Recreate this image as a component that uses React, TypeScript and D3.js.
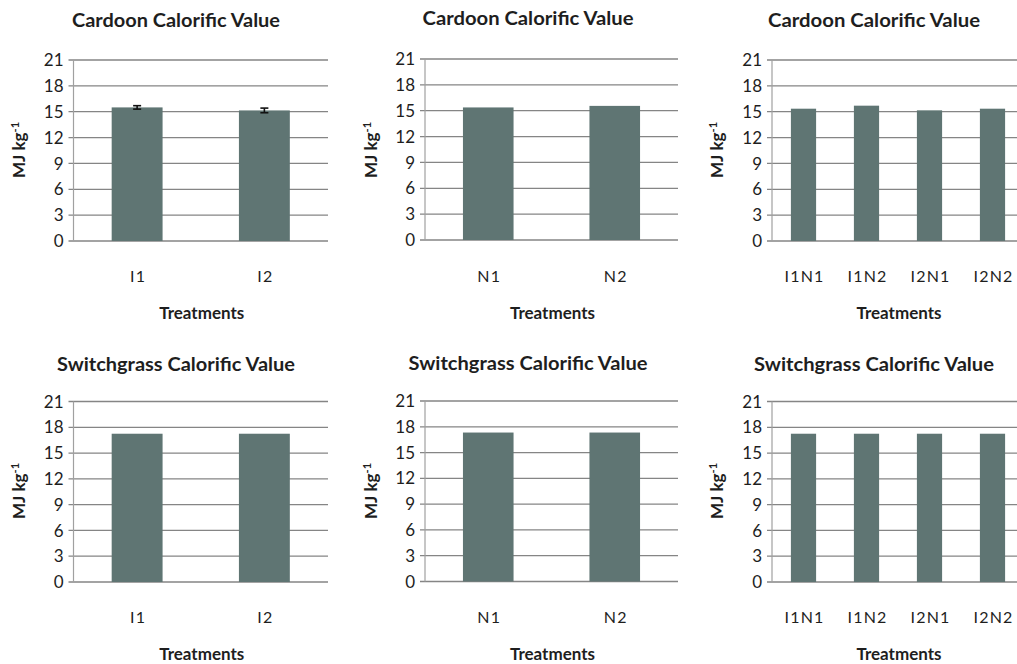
import React from "react";
import * as d3 from "d3";

// Calorific value (MJ kg-1) by treatment
const irrigationCategories = ["I1", "I2"];
const nitrogenCategories = ["N1", "N2"];
const combinedCategories = ["I1N1", "I1N2", "I2N1", "I2N2"];

const cardoonIrrigationValues = [15.5, 15.15];
const cardoonIrrigationErrors = [0.2, 0.27];
const cardoonNitrogenValues = [15.38, 15.56];
const cardoonCombinedValues = [15.35, 15.7, 15.16, 15.35];

const switchgrassIrrigationValues = [17.25, 17.25];
const switchgrassNitrogenValues = [17.33, 17.33];
const switchgrassCombinedValues = [17.25, 17.25, 17.25, 17.25];

const yTicks = [0, 3, 6, 9, 12, 15, 18, 21];

const cardoonTitle = "Cardoon Calorific Value";
const switchgrassTitle = "Switchgrass Calorific Value";
const xAxisTitle = "Treatments";

const BAR_COLOR = "#5f7573";
const GRID_COLOR = "#858585";
const AXIS_COLOR = "#a0a0a0";
const TEXT_COLOR = "#1e1e1e";
const FONT = "Lato, 'Open Sans', sans-serif";

type PanelProps = {
  title: string;
  titleWidth: number;
  categories: string[];
  values: number[];
  errors?: number[];
  left: number;
  right: number;
  top: number;
  bottom: number;
  titleX: number;
  titleY: number;
  catY: number;
  axisTitleY: number;
  yLabelX: number;
  yLabelY: number;
};

function Panel(p: PanelProps) {
  const x = d3
    .scaleBand<string>()
    .domain(p.categories)
    .range([p.left, p.right])
    .paddingInner(0.6)
    .paddingOuter(0.3);
  const y = d3.scaleLinear().domain([0, 21]).range([p.bottom, p.top]);

  return (
    <g>
      <text
        x={p.titleX}
        y={p.titleY}
        textAnchor="middle"
        fontFamily={FONT}
        fontWeight={700}
        fontSize={18.5}
        fill={TEXT_COLOR}
        textLength={p.titleWidth}
        lengthAdjust="spacingAndGlyphs"
      >
        {p.title}
      </text>

      {yTicks.map((t) => (
        <g key={t}>
          <line
            x1={p.left - 5}
            x2={p.right}
            y1={y(t)}
            y2={y(t)}
            stroke={GRID_COLOR}
            strokeWidth={1.3}
          />
          <text
            x={p.left - 10}
            y={y(t)}
            dy="0.36em"
            textAnchor="end"
            fontFamily={FONT}
            fontSize={17}
            fill={TEXT_COLOR}
          >
            {t}
          </text>
        </g>
      ))}
      <line
        x1={p.left}
        x2={p.left}
        y1={p.top}
        y2={p.bottom}
        stroke={AXIS_COLOR}
        strokeWidth={1.2}
      />

      {p.categories.map((c, i) => (
        <rect
          key={c}
          x={x(c)!}
          y={y(p.values[i])}
          width={x.bandwidth()}
          height={p.bottom - y(p.values[i])}
          fill={BAR_COLOR}
        />
      ))}

      {p.errors &&
        p.categories.map((c, i) => {
          const cx = x(c)! + x.bandwidth() / 2;
          const hi = y(p.values[i] + p.errors![i]);
          const lo = y(p.values[i] - p.errors![i]);
          return (
            <g key={"e" + c} stroke="#111" strokeWidth={1.6}>
              <line x1={cx} x2={cx} y1={hi} y2={lo} />
              <line x1={cx - 4} x2={cx + 4} y1={hi} y2={hi} />
              <line x1={cx - 4} x2={cx + 4} y1={lo} y2={lo} />
            </g>
          );
        })}

      {p.categories.map((c) => (
        <text
          key={"l" + c}
          x={x(c)! + x.bandwidth() / 2 + 1}
          y={p.catY}
          textAnchor="middle"
          fontFamily={FONT}
          fontSize={16}
          letterSpacing={1.2}
          fill={TEXT_COLOR}
        >
          {c}
        </text>
      ))}

      <text
        x={(p.left + p.right) / 2 + 1}
        y={p.axisTitleY}
        textAnchor="middle"
        fontFamily={FONT}
        fontWeight={700}
        fontSize={17}
        fill={TEXT_COLOR}
      >
        {xAxisTitle}
      </text>

      <text
        transform={`translate(${p.yLabelX},${p.yLabelY}) rotate(-90)`}
        fontFamily={FONT}
        fontWeight={700}
        fontSize={17}
        fill={TEXT_COLOR}
      >
        MJ kg
        <tspan dy="-0.55em" fontSize={11}>
          -1
        </tspan>
      </text>
    </g>
  );
}

export default function App() {
  const topRow = { top: 60, bottom: 241, titleY: 27, catY: 282, axisTitleY: 319, yLabelY: 178 };
  const botRow = { top: 401.5, bottom: 582, titleY: 371, catY: 623, axisTitleY: 660, yLabelY: 519 };
  const col1 = { left: 73.5, right: 328, titleX: 176, yLabelX: 25 };
  const col2 = { left: 425, right: 678, titleX: 528, yLabelX: 377 };
  const col3 = { left: 772, right: 1024, titleX: 874, yLabelX: 723 };

  return (
    <svg
      width={1017}
      height={664}
      style={{ position: "absolute", left: 0, top: 0, background: "#fff" }}
    >
      <rect width={1017} height={664} fill="#fff" />
      <Panel
        {...topRow}
        {...col1}
        title={cardoonTitle}
        titleWidth={208}
        categories={irrigationCategories}
        values={cardoonIrrigationValues}
        errors={cardoonIrrigationErrors}
      />
      <Panel
        {...topRow}
        {...col2}
        top={59}
        bottom={240}
        titleY={25}
        title={cardoonTitle}
        titleWidth={211}
        categories={nitrogenCategories}
        values={cardoonNitrogenValues}
      />
      <Panel
        {...topRow}
        {...col3}
        title={cardoonTitle}
        titleWidth={212}
        categories={combinedCategories}
        values={cardoonCombinedValues}
      />
      <Panel
        {...botRow}
        {...col1}
        title={switchgrassTitle}
        titleWidth={238}
        categories={irrigationCategories}
        values={switchgrassIrrigationValues}
      />
      <Panel
        {...botRow}
        {...col2}
        top={401}
        bottom={581.5}
        titleY={370}
        title={switchgrassTitle}
        titleWidth={239}
        categories={nitrogenCategories}
        values={switchgrassNitrogenValues}
      />
      <Panel
        {...botRow}
        {...col3}
        title={switchgrassTitle}
        titleWidth={240}
        categories={combinedCategories}
        values={switchgrassCombinedValues}
      />
    </svg>
  );
}
